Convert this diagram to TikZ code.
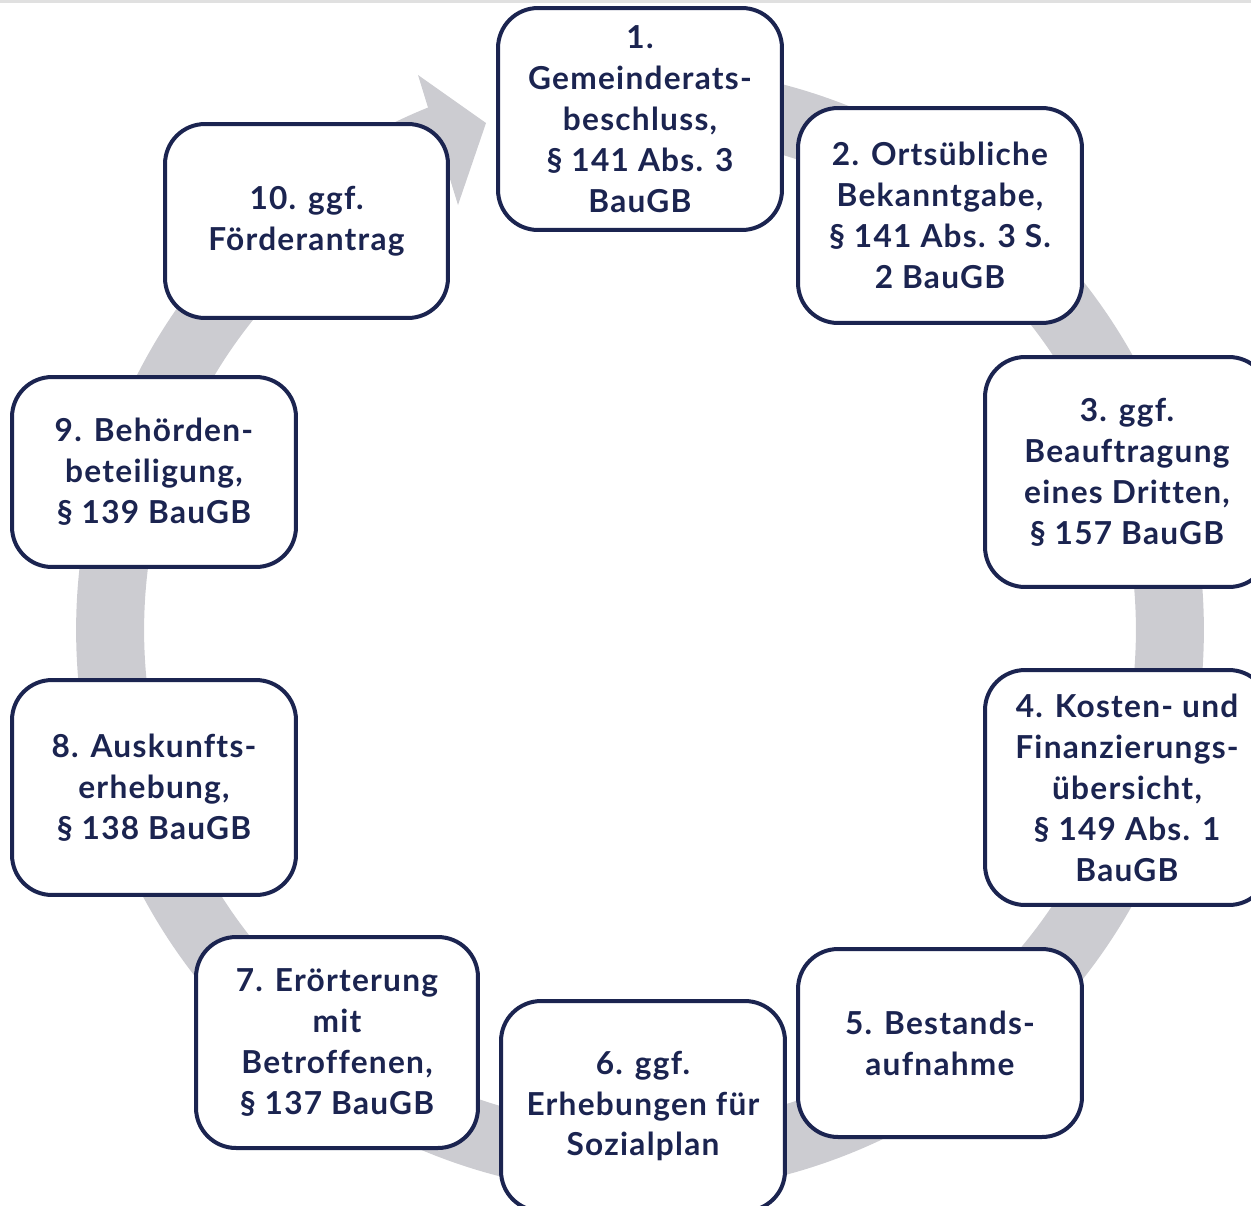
\documentclass[tikz,border=0pt]{standalone}
\usepackage{fontspec}
\setmainfont{Lato}[LetterSpace=4, Ligatures={NoCommon}]
\usepackage{tikz}
\usetikzlibrary{calc}
\definecolor{navy}{RGB}{27, 36, 80}
\definecolor{ringgray}{RGB}{204, 204, 209}
\definecolor{edgegray}{RGB}{224, 224, 224}

\begin{document}
\begin{tikzpicture}[
  x=0.02cm, y=-0.02cm,
  stage/.style={draw=navy, line width=0.08cm, rounded corners=0.8cm, fill=white,
    minimum width=5.68cm, inner sep=0pt, align=center, text=navy,
    font=\fontsize{18}{23.3}\selectfont\bfseries},
  ring/.style={ringgray, line width=1.36cm}
]
  \useasboundingbox (0,0) rectangle (1251,1205);
  \fill[edgegray] (0,0) rectangle (1251,3);

  % Cycle ring
  \coordinate (ctr) at (640,630);
  \draw[ring] (ctr) ++(90:10.6cm) arc[start angle=90, end angle=-248.5, radius=10.6cm];
  \coordinate (h1) at (418,75);
  \coordinate (h2) at (486,123);
  \coordinate (h3) at (458,205);
  \fill[ringgray] (h1) -- (h2) -- (h3) -- cycle;

  % Steps
  \node[stage, minimum height=4.44cm] (s1) at (640,119)
    {1.\\Gemeinderats-\\beschluss,\\§ 141 Abs. 3\\BauGB};
  \node[stage, minimum height=4.30cm] (s2) at (940,215.5)
    {2. Ortsübliche\\Bekanntgabe,\\§ 141 Abs. 3 S.\\2 BauGB};
  \node[stage, minimum height=4.60cm] (s3) at (1127,472)
    {3. ggf.\\Beauftragung\\eines Dritten,\\§ 157 BauGB};
  \node[stage, minimum height=4.70cm] (s4) at (1127,787.5)
    {4. Kosten- und\\Finanzierungs-\\übersicht,\\§ 149 Abs. 1\\BauGB};
  \node[stage, minimum height=3.76cm] (s5) at (940,1043)
    {5. Bestands-\\aufnahme};
  \node[stage, minimum height=4.20cm] (s6) at (643,1106)
    {6. ggf.\\Erhebungen für\\Sozialplan};
  \node[stage, minimum height=4.22cm, minimum width=5.64cm] (s7) at (337,1042.5)
    {7. Erörterung\\mit\\Betroffenen,\\§ 137 BauGB};
  \node[stage, minimum height=4.30cm] (s8) at (154,787.5)
    {8. Auskunfts-\\erhebung,\\§ 138 BauGB};
  \node[stage, minimum height=3.80cm] (s9) at (154,472)
    {9. Behörden-\\beteiligung,\\§ 139 BauGB};
  \node[stage, minimum height=3.88cm, minimum width=5.66cm] (s10) at (306.5,221)
    {10. ggf.\\Förderantrag};
\end{tikzpicture}
\end{document}
